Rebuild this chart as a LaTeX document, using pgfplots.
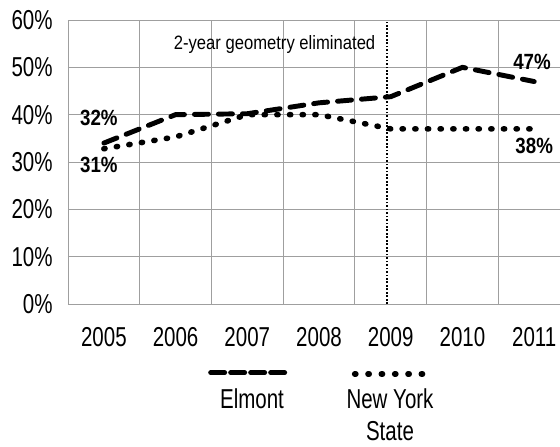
\documentclass[border=0pt]{standalone}
\usepackage{fontspec}
\setmainfont{Liberation Sans}[FakeStretch=0.75]
\newfontfamily\notefont{Liberation Sans}[FakeStretch=0.86]
\newfontfamily\labfont{Liberation Sans}[FakeStretch=0.85]
\usepackage{pgfplots}
\pgfplotsset{compat=1.18}
\begin{document}
\begin{tikzpicture}
  \begin{axis}[
    at={(0pt,0pt)}, anchor=south west,
    scale only axis, width=369pt, height=213pt,
    xmin=-0.5, xmax=6.36, ymin=0, ymax=60,
    axis line style={draw=none},
    xtick={0,...,6},
    xticklabels={2005,2006,2007,2008,2009,2010,2011},
    extra x ticks={-0.5,0.5,1.5,2.5,3.5,4.5,5.5},
    extra x tick labels={},
    extra x tick style={grid=major},
    ytick={0,10,...,60},
    yticklabel={\pgfmathprintnumber{\tick}\%},
    ymajorgrids,
    grid style={gray!75, line width=0.6pt},
    major tick length=0pt,
    /pgf/number format/assume math mode=true,
    tick label style={font=\fontsize{20.5}{24}\selectfont},
    xticklabel style={yshift=-14pt},
    yticklabel style={xshift=-8pt},
    clip=false]

    % Elmont
    \addplot[black, line width=3.7pt, line cap=round, dash pattern=on 10.5pt off 7.5pt] coordinates {
      (0,34) (1,40) (2,40.2) (3,42.5) (4,43.8) (5,50) (6,47)
    };
    % New York State
    \addplot[black, line width=4.2pt, line cap=round, dash pattern=on 0.9pt off 8.6pt] coordinates {
      (0,32.8) (1,35.3) (2,40) (3,40) (4,37) (5,37) (6,37)
    };
    % geometry marker
    \addplot[black, line width=1.6pt, dash pattern=on 1.3pt off 1.3pt] coordinates {
      (3.95,0) (3.95,59.5)
    };

    \node[font=\notefont\fontsize{14.5}{16}\selectfont] at (axis cs:2.38,54.8) {2-year geometry eliminated};
    \node[font=\labfont\bfseries\fontsize{16.5}{18}\selectfont] at (axis cs:-0.07,39.3) {32\%};
    \node[font=\labfont\bfseries\fontsize{16.5}{18}\selectfont] at (axis cs:-0.07,29.4) {31\%};
    \node[font=\labfont\bfseries\fontsize{16.5}{18}\selectfont] at (axis cs:5.97,51.2) {47\%};
    \node[font=\labfont\bfseries\fontsize{16.5}{18}\selectfont] at (axis cs:6.0,33.4) {38\%};
  \end{axis}

  % legend
  \draw[black, line width=3.7pt, line cap=round, dash pattern=on 10.5pt off 4.5pt] (107pt,-51.5pt) -- (166.5pt,-51.5pt);
  \node[font=\fontsize{20.5}{24}\selectfont] at (138pt,-71pt) {Elmont};
  \draw[black, line width=4.2pt, line cap=round, dash pattern=on 0.9pt off 9.1pt] (215pt,-52.5pt) -- (266pt,-52.5pt);
  \node[font=\fontsize{20.5}{24}\selectfont] at (241.5pt,-71pt) {New York};
  \node[font=\fontsize{20.5}{24}\selectfont, inner sep=0pt] at (241.5pt,-95.5pt) {State};

  \pgfresetboundingbox
  \path (-51pt,-106.5pt) rectangle (369pt,228pt);
\end{tikzpicture}
\end{document}
